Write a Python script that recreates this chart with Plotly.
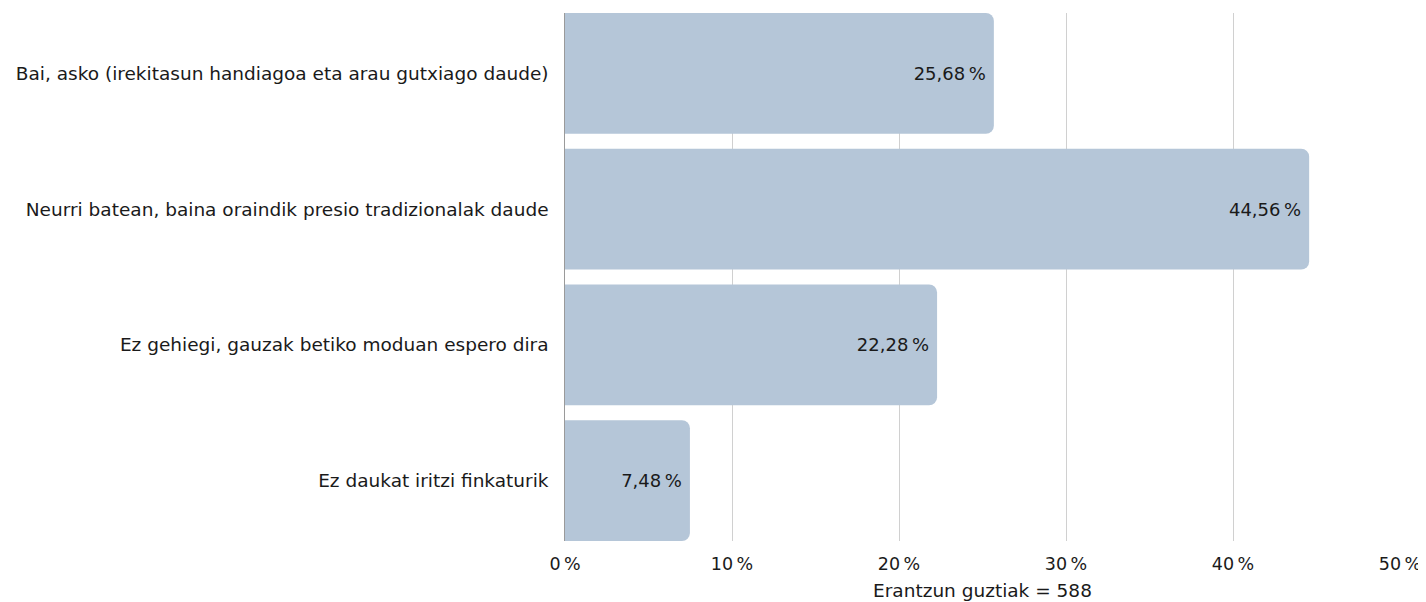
import plotly.graph_objects as go

# Survey answers (top to bottom) and their share of responses
categories = [
    "Bai, asko (irekitasun handiagoa eta arau gutxiago daude)",
    "Neurri batean, baina oraindik presio tradizionalak daude",
    "Ez gehiegi, gauzak betiko moduan espero dira",
    "Ez daukat iritzi finkaturik",
]
percentages = [25.68, 44.56, 22.28, 7.48]
tick_values = [0, 10, 20, 30, 40, 50]
total_answers = 588

FONT = "'DejaVu Sans', sans-serif"
BAR_COLOR = "#b5c6d8"
TEXT_COLOR = "#1a1a1a"

labels = [f"{v:.2f}".replace(".", ",") + "\u202f%" for v in percentages]

fig = go.Figure()

fig.add_trace(
    go.Bar(
        x=percentages,
        y=categories,
        orientation="h",
        marker=dict(color=BAR_COLOR, cornerradius=8, line=dict(width=0)),
        text=labels,
        textposition="inside",
        insidetextanchor="end",
        textfont=dict(family=FONT, size=18, color=TEXT_COLOR),
        hoverinfo="skip",
    )
)

# page body adds ~8px offset, so the figure is sized to fit the window
fig.update_layout(
    width=1418,
    height=594,
    margin=dict(l=557, r=26, t=5, b=61),
    plot_bgcolor="white",
    paper_bgcolor="white",
    bargap=0.11,
    showlegend=False,
    font=dict(family=FONT, size=17, color=TEXT_COLOR),
    xaxis=dict(
        range=[0, 50],
        tickvals=tick_values,
        ticktext=[f"{t}\u202f%" for t in tick_values],
        showgrid=True,
        gridcolor="#d0d0d0",
        gridwidth=1,
        zeroline=False,
        showline=False,
        ticks="",
        ticklabelstandoff=10,
        automargin=False,
        tickfont=dict(size=17.5, color=TEXT_COLOR),
        title=dict(text=f"Erantzun guztiak = {total_answers}", font=dict(size=18.5), standoff=11),
    ),
    yaxis=dict(
        categoryorder="array",
        categoryarray=categories,
        range=[3.445, -0.445],
        showline=True,
        linecolor="#9a9a9a",
        linewidth=1,
        showgrid=False,
        ticks="",
        ticksuffix="  ",
        automargin=False,
        tickfont=dict(size=18.5, color=TEXT_COLOR),
    ),
)

fig.write_html("out.html")
